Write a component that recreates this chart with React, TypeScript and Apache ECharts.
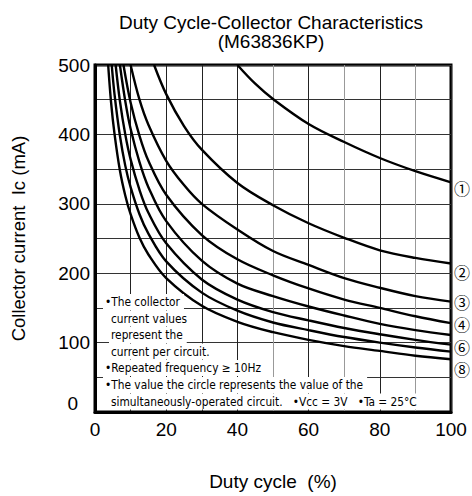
import React, { useEffect, useRef } from "react";
import * as echarts from "echarts";

const titleLines = ["Duty Cycle-Collector Characteristics", "(M63836KP)"];
const xName = "Duty cycle  (%)";
const yName = "Collector current  Ic (mA)";

const curveLabels = ["①", "②", "③", "④", "", "⑥", "", "⑧"];

const d1 = [40, 45, 50, 60, 70, 80, 90, 100];
const i1 = [500, 473, 451, 415, 389, 366, 347, 331];
const d2 = [16.6, 20, 25, 30, 40, 50, 60, 70, 80, 90, 100];
const i2 = [500, 458, 412, 378, 330, 298, 272, 251, 233, 222, 214];
const d3 = [10, 12.5, 15, 20, 25, 30, 40, 50, 60, 70, 80, 90, 100];
const i3 = [500, 450, 414, 362, 327, 300, 263, 232, 212, 193, 179, 167, 159];
const d4 = [8, 10, 12.5, 15, 20, 30, 40, 50, 60, 70, 80, 90, 100];
const i4 = [500, 446, 398, 362, 313, 255, 220, 197, 178, 162, 150, 138, 128];
const d5 = [7, 8.5, 10, 12.5, 15, 20, 30, 40, 50, 60, 70, 80, 90, 100];
const i5 = [500, 448, 408, 360, 324, 275, 218, 185, 167, 152, 139, 127, 118, 111];
const d6 = [5.8, 7, 8.5, 10, 12.5, 15, 20, 30, 40, 50, 60, 70, 80, 90, 100];
const i6 = [500, 448, 400, 364, 320, 287, 243, 191, 162, 144, 132, 121, 112, 104, 97];
const d7 = [4.7, 5.5, 7, 8.5, 10, 12.5, 15, 20, 30, 40, 50, 60, 70, 80, 90, 100];
const i7 = [500, 457, 398, 355, 324, 285, 257, 217, 172, 146, 129, 118, 108, 100, 93, 87];
const d8 = [3.7, 4.5, 5.5, 7, 8.5, 10, 12.5, 15, 20, 30, 40, 50, 60, 70, 80, 90, 100];
const i8 = [500, 447, 400, 348, 312, 285, 251, 227, 193, 153, 130, 115, 104, 95, 88, 81, 76];

const dutyArrays = [d1, d2, d3, d4, d5, d6, d7, d8];
const currentArrays = [i1, i2, i3, i4, i5, i6, i7, i8];

const xTicks = [0, 20, 40, 60, 80, 100];
const yTicks = [0, 100, 200, 300, 400, 500];

const noteLines = [
  "•The collector",
  " current values",
  " represent the",
  " current per circuit.",
  "•Repeated frequency ≥ 10Hz",
  "•The value the circle represents the value of the",
  " simultaneously-operated circuit.   •Vcc = 3V   •Ta = 25°C",
];

const labelOffsets = [6, 9, 0, 1, 0, 2, 0, 10];

export default function App() {
  const ref = useRef<HTMLDivElement>(null);
  useEffect(() => {
    document.body.style.margin = "0";
    const chart = echarts.init(ref.current!, null, { renderer: "svg" });
    const font = "'Liberation Sans', Arial, Helvetica, sans-serif";
    const noteFont = "'Liberation Sans Narrow', 'DejaVu Sans Condensed', 'Arial Narrow', sans-serif";
    const series = dutyArrays.map((d, k) => ({
      type: "line",
      name: String(k + 1),
      data: d.map((x, j) => [x, currentArrays[k][j]]),
      showSymbol: false,
      smooth: 0.35,
      clip: true,
      lineStyle: { color: "#000", width: 2.4 },
      z: 3,
      endLabel: {
        show: curveLabels[k] !== "",
        formatter: curveLabels[k],
        distance: 3,
        offset: [0, labelOffsets[k]],
        color: "#000",
        fontSize: 16,
        lineHeight: 16,
        fontFamily: "'Noto Sans CJK JP', 'DejaVu Sans', sans-serif",
      },
    }));
    const graphics: any[] = titleLines.map((t, i) => ({
      type: "text",
      x: 271,
      y: 22 + i * 19,
      style: {
        text: t,
        textAlign: "center",
        textVerticalAlign: "middle",
        fill: "#000",
        font: `19px ${font}`,
      },
    }));
    const noteY = [302, 318.5, 335, 351.5, 368, 385, 401.5];
    noteLines.forEach((t, i) => {
      const indent = t.startsWith(" ");
      graphics.push({
        type: "text",
        x: indent ? 109 : 103,
        y: noteY[i],
        z: 10,
        style: {
          text: t.trim(),
          fill: "#000",
          font: `11.8px ${noteFont}`,
          textVerticalAlign: "middle",
          backgroundColor: "#fff",
          padding: [2, 4, 2, 2],
        },
      });
    });
    chart.setOption({
      animation: false,
      backgroundColor: "#fff",
      grid: {
        left: 95,
        right: 21,
        top: 65,
        bottom: 82,
        show: true,
        borderColor: "#000",
        borderWidth: 3,
        containLabel: false,
      },
      xAxis: {
        type: "value",
        min: 0,
        max: 100,
        interval: 10,
        name: xName,
        nameLocation: "middle",
        nameGap: 60,
        nameTextStyle: { color: "#000", fontSize: 19, fontFamily: font },
        axisLine: { show: true, lineStyle: { color: "#000", width: 3 } },
        axisTick: { show: false },
        axisLabel: {
          color: "#000",
          fontSize: 19,
          fontFamily: font,
          margin: 8,
          formatter: (v: number) => (xTicks.includes(v) ? String(v) : ""),
        },
        splitLine: {
          show: true,
          lineStyle: {
            color: ["#222", "#222", "#222", "#222", "#222", "#999", "#222", "#999", "#222", "#999", "#222"],
            width: 1,
          },
        },
      },
      yAxis: {
        type: "value",
        min: 0,
        max: 500,
        interval: 50,
        name: yName,
        nameLocation: "middle",
        nameGap: 67,
        nameTextStyle: { color: "#000", fontSize: 18.5, fontFamily: font },
        axisLine: { show: true, lineStyle: { color: "#000", width: 3 } },
        axisTick: { show: false },
        axisLabel: {
          color: "#000",
          fontSize: 19,
          fontFamily: font,
          margin: 5,
          formatter: (v: number) =>
            yTicks.includes(v) ? (v === 0 ? "{z|0}" : String(v)) : "",
          rich: {
            z: { fontSize: 19, fontFamily: font, color: "#000", padding: [0, 12, 18, 0] },
          },
        },
        splitLine: { show: true, lineStyle: { color: "#333", width: 1 } },
      },
      series,
      graphic: graphics,
    });
    return () => chart.dispose();
  }, []);
  return (
    <div
      ref={ref}
      style={{ position: "absolute", left: 0, top: 0, width: 472, height: 496 }}
    />
  );
}
